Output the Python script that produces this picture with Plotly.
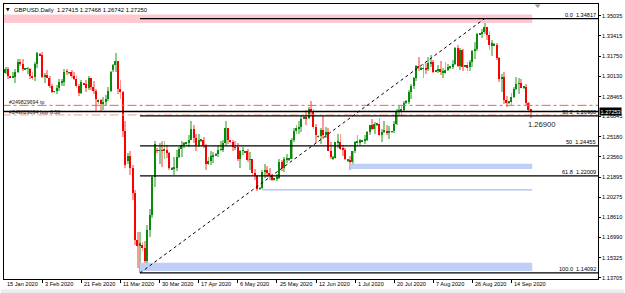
import numpy as np
import pandas as pd
import plotly.graph_objects as go

# ---------------- data (GBPUSD daily, Sunday bars included) ----------------
DATES = [d.strftime("%Y-%m-%d") for d in pd.date_range("2020-01-15", "2020-09-23") if d.weekday() != 5]

OPEN = [
    1.3020, 1.3041, 1.3071,
    1.3008, 1.3005, 1.3008, 1.3045, 1.3125, 1.3113,
    1.3070, 1.3072, 1.3073, 1.3018, 1.3003, 1.3108,
    1.3190, 1.3185, 1.3005, 1.3023, 1.2999, 1.2932,
    1.2887, 1.2890, 1.2917, 1.2963, 1.2969, 1.3048,
    1.3040, 1.3045, 1.3012, 1.2992, 1.2930, 1.2876,
    1.2950, 1.2948, 1.2915, 1.2997, 1.2927, 1.2889,
    1.2810, 1.2815, 1.2789, 1.2805, 1.2828, 1.2895,
    1.3060, 1.3100, 1.3133, 1.2905, 1.2880, 1.2566,
    1.2320, 1.2360, 1.2262, 1.2062, 1.1677, 1.1626,
    1.1640, 1.1610, 1.1507, 1.1763, 1.1878, 1.2192,
    1.2410, 1.2405, 1.2410, 1.2405, 1.2415, 1.2390,
    1.2255, 1.2260, 1.2265, 1.2351, 1.2420, 1.2450,
    1.2465, 1.2470, 1.2495, 1.2580, 1.2508, 1.2452,
    1.2490, 1.2492, 1.2445, 1.2300, 1.2320, 1.2360,
    1.2370, 1.2380, 1.2415, 1.2415, 1.2470, 1.2590,
    1.2485, 1.2480, 1.2433, 1.2432, 1.2340, 1.2405,
    1.2390, 1.2400, 1.2330, 1.2335, 1.2225, 1.2200,
    1.2095, 1.2100, 1.2235, 1.2245, 1.2225, 1.2200,
    1.2170, 1.2180, 1.2185, 1.2315, 1.2265, 1.2335,
    1.2330, 1.2340, 1.2490, 1.2565, 1.2590, 1.2595,
    1.2670, 1.2680, 1.2670, 1.2745, 1.2730, 1.2595,
    1.2520, 1.2525, 1.2575, 1.2530, 1.2555, 1.2405,
    1.2340, 1.2350, 1.2475, 1.2480, 1.2420, 1.2415,
    1.2325, 1.2330, 1.2315, 1.2400, 1.2475, 1.2475,
    1.2480, 1.2490, 1.2495, 1.2555, 1.2615, 1.2580,
    1.2615, 1.2625, 1.2535, 1.2560, 1.2570, 1.2550,
    1.2560, 1.2562, 1.2625, 1.2725, 1.2735, 1.2740,
    1.2795, 1.2805, 1.2880, 1.2935, 1.2995, 1.3095,
    1.3070, 1.3075, 1.3075, 1.3070, 1.3120, 1.3130,
    1.3050, 1.3058, 1.3070, 1.3045, 1.3045, 1.3060,
    1.3080, 1.3090, 1.3115, 1.3240, 1.3095, 1.3225,
    1.3090, 1.3100, 1.3085, 1.3125, 1.3215, 1.3235,
    1.3350, 1.3360, 1.3370, 1.3415, 1.3345, 1.3265,
    1.3265, 1.3270, 1.3160, 1.2990, 1.3010, 1.2820,
    1.2795, 1.2805, 1.2845, 1.2910, 1.2950, 1.2955,
    1.2920, 1.2925, 1.2795, 1.27415,
]
HIGH = [
    1.3069, 1.3085, 1.3090,
    1.3015, 1.3048, 1.3070, 1.3153, 1.3152, 1.3155,
    1.3078, 1.3090, 1.3078, 1.3047, 1.3125, 1.3207,
    1.3198, 1.3212, 1.3040, 1.3063, 1.3013, 1.2948,
    1.2895, 1.2943, 1.2988, 1.2990, 1.3069, 1.3070,
    1.3050, 1.3062, 1.3044, 1.3014, 1.2952, 1.2979,
    1.2958, 1.2982, 1.3012, 1.3000, 1.2975, 1.2906,
    1.2830, 1.2826, 1.2847, 1.2858, 1.2927, 1.3052,
    1.3110, 1.3200, 1.3140, 1.2985, 1.2889, 1.2646,
    1.2390, 1.2405, 1.2293, 1.2087, 1.1745, 1.1745,
    1.1660, 1.1671, 1.1800, 1.1932, 1.2203, 1.2487,
    1.2430, 1.2467, 1.2482, 1.2485, 1.2455, 1.2392,
    1.2270, 1.2354, 1.2410, 1.2434, 1.2488, 1.2480,
    1.2475, 1.2532, 1.2647, 1.2615, 1.2545, 1.2542,
    1.2500, 1.2518, 1.2457, 1.2353, 1.2405, 1.2398,
    1.2385, 1.2445, 1.2485, 1.2493, 1.2644, 1.2594,
    1.2495, 1.2496, 1.2485, 1.2466, 1.2415, 1.2438,
    1.2405, 1.2421, 1.2391, 1.2337, 1.2255, 1.2209,
    1.2110, 1.2250, 1.2296, 1.2278, 1.2262, 1.2215,
    1.2185, 1.2215, 1.2339, 1.2330, 1.2355, 1.2378,
    1.2345, 1.2506, 1.2589, 1.2612, 1.2647, 1.2700,
    1.2685, 1.2734, 1.2763, 1.2813, 1.2749, 1.2621,
    1.2535, 1.2590, 1.2688, 1.2602, 1.2588, 1.2475,
    1.2360, 1.2476, 1.2542, 1.2543, 1.2456, 1.2425,
    1.2340, 1.2360, 1.2406, 1.2482, 1.2531, 1.2500,
    1.2495, 1.2533, 1.2570, 1.2619, 1.2667, 1.2643,
    1.2630, 1.2669, 1.2580, 1.2650, 1.2615, 1.2608,
    1.2570, 1.2648, 1.2744, 1.2769, 1.2766, 1.2809,
    1.2815, 1.2901, 1.2950, 1.3005, 1.3106, 1.3170,
    1.3085, 1.3113, 1.3117, 1.3170, 1.3185, 1.3145,
    1.3065, 1.3100, 1.3134, 1.3080, 1.3130, 1.3116,
    1.3095, 1.3147, 1.3251, 1.3267, 1.3245, 1.3236,
    1.3105, 1.3131, 1.3146, 1.3225, 1.3289, 1.3361,
    1.3365, 1.3398, 1.3482, 1.3416, 1.3379, 1.3307,
    1.3280, 1.3283, 1.3167, 1.3031, 1.3044, 1.2848,
    1.2810, 1.2873, 1.2927, 1.3007, 1.3002, 1.2987,
    1.2930, 1.2949, 1.2805, 1.27468,
]
LOW = [
    1.2995, 1.3030, 1.2990,
    1.2995, 1.2995, 1.2960, 1.3040, 1.3098, 1.3051,
    1.3064, 1.3028, 1.2991, 1.2983, 1.2972, 1.3082,
    1.3175, 1.2994, 1.2961, 1.2994, 1.2918, 1.2874,
    1.2880, 1.2870, 1.2896, 1.2932, 1.2930, 1.3024,
    1.3035, 1.3002, 1.2980, 1.2918, 1.2853, 1.2867,
    1.2940, 1.2885, 1.2902, 1.2902, 1.2867, 1.2726,
    1.2790, 1.2725, 1.2736, 1.2768, 1.2812, 1.2884,
    1.3045, 1.3050, 1.2868, 1.2830, 1.2516, 1.2263,
    1.2300, 1.2207, 1.2004, 1.1636, 1.1451, 1.1409,
    1.1590, 1.1452, 1.1478, 1.1706, 1.1855, 1.2106,
    1.2390, 1.2295, 1.2275, 1.2336, 1.2342, 1.2247,
    1.2245, 1.2206, 1.2240, 1.2345, 1.2355, 1.2430,
    1.2455, 1.2435, 1.2491, 1.2467, 1.2405, 1.2439,
    1.2480, 1.2428, 1.2247, 1.2285, 1.2285, 1.2306,
    1.2365, 1.2355, 1.2400, 1.2392, 1.2450, 1.2457,
    1.2470, 1.2403, 1.2408, 1.2321, 1.2265, 1.2373,
    1.2385, 1.2311, 1.2247, 1.2208, 1.2164, 1.2076,
    1.2088, 1.2091, 1.2181, 1.2190, 1.2163, 1.2160,
    1.2160, 1.2155, 1.2175, 1.2242, 1.2236, 1.2308,
    1.2320, 1.2337, 1.2475, 1.2538, 1.2541, 1.2560,
    1.2660, 1.2618, 1.2667, 1.2695, 1.2585, 1.2471,
    1.2510, 1.2460, 1.2500, 1.2505, 1.2403, 1.2335,
    1.2330, 1.2334, 1.2430, 1.2414, 1.2360, 1.2330,
    1.2310, 1.2252, 1.2260, 1.2386, 1.2441, 1.2456,
    1.2475, 1.2462, 1.2485, 1.2532, 1.2575, 1.2543,
    1.2610, 1.2525, 1.2480, 1.2553, 1.2536, 1.2500,
    1.2550, 1.2547, 1.2617, 1.2691, 1.2687, 1.2718,
    1.2790, 1.2784, 1.2828, 1.2905, 1.2972, 1.3056,
    1.3060, 1.3002, 1.3028, 1.3059, 1.3085, 1.3035,
    1.3045, 1.3040, 1.3024, 1.3000, 1.3030, 1.3055,
    1.3075, 1.3070, 1.3105, 1.3085, 1.3060, 1.3059,
    1.3085, 1.3054, 1.3058, 1.3085, 1.3151, 1.3220,
    1.3345, 1.3323, 1.3360, 1.3307, 1.3224, 1.3181,
    1.3255, 1.3143, 1.2965, 1.2885, 1.2787, 1.2762,
    1.2790, 1.2774, 1.2835, 1.2903, 1.2864, 1.2916,
    1.2910, 1.2778, 1.2719, 1.26742,
]
CLOSE = [
    1.3041, 1.3071, 1.3012,
    1.3005, 1.3008, 1.3045, 1.3125, 1.3113, 1.3075,
    1.3072, 1.3073, 1.3018, 1.3003, 1.3108, 1.3205,
    1.3185, 1.3005, 1.3023, 1.2999, 1.2932, 1.2885,
    1.2890, 1.2917, 1.2963, 1.2969, 1.3048, 1.3047,
    1.3045, 1.3012, 1.2992, 1.2930, 1.2876, 1.2962,
    1.2948, 1.2915, 1.2997, 1.2927, 1.2889, 1.2823,
    1.2815, 1.2789, 1.2805, 1.2828, 1.2895, 1.3045,
    1.3100, 1.3133, 1.2905, 1.2880, 1.2566, 1.2288,
    1.2360, 1.2262, 1.2062, 1.1677, 1.1626, 1.1650,
    1.1610, 1.1507, 1.1763, 1.1878, 1.2192, 1.2457,
    1.2405, 1.2410, 1.2405, 1.2415, 1.2390, 1.2264,
    1.2260, 1.2265, 1.2351, 1.2420, 1.2450, 1.2470,
    1.2470, 1.2495, 1.2580, 1.2508, 1.2452, 1.2495,
    1.2492, 1.2445, 1.2300, 1.2320, 1.2360, 1.2365,
    1.2380, 1.2415, 1.2415, 1.2470, 1.2590, 1.2493,
    1.2480, 1.2433, 1.2432, 1.2340, 1.2405, 1.2405,
    1.2400, 1.2330, 1.2335, 1.2225, 1.2200, 1.2097,
    1.2100, 1.2235, 1.2245, 1.2225, 1.2200, 1.2165,
    1.2180, 1.2185, 1.2315, 1.2265, 1.2335, 1.2345,
    1.2340, 1.2490, 1.2565, 1.2590, 1.2595, 1.2665,
    1.2680, 1.2670, 1.2745, 1.2730, 1.2595, 1.2535,
    1.2525, 1.2575, 1.2530, 1.2555, 1.2405, 1.2355,
    1.2350, 1.2475, 1.2480, 1.2420, 1.2415, 1.2335,
    1.2330, 1.2315, 1.2400, 1.2475, 1.2475, 1.2490,
    1.2490, 1.2495, 1.2555, 1.2615, 1.2580, 1.2620,
    1.2625, 1.2535, 1.2560, 1.2570, 1.2550, 1.2565,
    1.2562, 1.2625, 1.2725, 1.2735, 1.2740, 1.2795,
    1.2805, 1.2880, 1.2935, 1.2995, 1.3095, 1.3085,
    1.3075, 1.3075, 1.3070, 1.3120, 1.3130, 1.3050,
    1.3058, 1.3070, 1.3045, 1.3045, 1.3060, 1.3085,
    1.3090, 1.3115, 1.3240, 1.3095, 1.3225, 1.3085,
    1.3100, 1.3085, 1.3125, 1.3215, 1.3235, 1.3355,
    1.3360, 1.3370, 1.3415, 1.3345, 1.3265, 1.3280,
    1.3270, 1.3160, 1.2990, 1.3010, 1.2820, 1.2795,
    1.2805, 1.2845, 1.2910, 1.2950, 1.2955, 1.2920,
    1.2925, 1.2795, 1.2741, 1.27250,
]

TITLE = "GBPUSD,Daily  1.27415 1.27468 1.26742 1.27250"
XTICK_DATES = ["2020-01-15", "2020-02-03", "2020-02-21", "2020-03-11", "2020-03-30", "2020-04-17",
               "2020-05-06", "2020-05-25", "2020-06-12", "2020-07-01", "2020-07-20", "2020-08-07",
               "2020-08-26", "2020-09-14"]
XTICK_LABELS = ["15 Jan 2020", "3 Feb 2020", "21 Feb 2020", "11 Mar 2020", "30 Mar 2020", "17 Apr 2020",
                "6 May 2020", "25 May 2020", "12 Jun 2020", "1 Jul 2020", "20 Jul 2020", "7 Aug 2020",
                "26 Aug 2020", "14 Sep 2020"]
YTICKS = [1.35035, 1.33415, 1.31750, 1.30130, 1.28465, 1.26845, 1.25180, 1.23560,
          1.21895, 1.20275, 1.18610, 1.16990, 1.15325, 1.13705]
YTICK_LABELS = ["1.35035", "1.33415", "1.31750", "1.30130", "1.28465", "1.26845", "1.25180", "1.23560",
                "1.21895", "1.20275", "1.18610", "1.16990", "1.15325", "1.13705"]

FIB_PRICES = [1.34817, 1.26900, 1.24455, 1.22009, 1.14092]
FIB_TEXT = ["0.0", "38.2", "50", "61.8", "100.0"]
FIB_START = "2020-03-20"
FIB_END = "2020-09-01"

PINK_ZONE = (1.34467, 1.35157)
BLUE_ZONES = [("2020-06-29", 1.22555, 1.22994), ("2020-05-18", 1.20801, 1.20931), ("2020-03-20", 1.14249, 1.14923)]
BID = 1.27250
BID_LABEL = "1.27253"
TP_PRICE = 1.27750
BUY_PRICE = 1.26970
TP_TEXT = "#249829694 tp"
BUY_TEXT = "#249829694 buy 0.50"
MARK_TEXT = "1.26900"
MARK_PRICE = 1.26225

# ---------------- geometry ----------------
W, H = 625, 293
PL, PR, PT, PB = 3, 599, 3, 279
BAR_PX = 2.452
X0_PX = 2.2
Y_LO, Y_HI = 1.13600, 1.36009


def xp(px):
    return (px - PL) / (PR - PL)


def yp(py):
    return (PB - py) / (PB - PT)


FONT = "Liberation Sans, Arial, sans-serif"

o = np.array(OPEN)
h = np.array(HIGH)
l = np.array(LOW)
c = np.array(CLOSE)
idx = np.arange(len(DATES))
pos = {d: i for i, d in enumerate(DATES)}
up = c >= o
dn = ~up
last = len(DATES) - 1
px_range = [(PL - X0_PX) / BAR_PX, (PR - X0_PX) / BAR_PX]
xleft = px_range[0] - 1
xright = px_range[1] + 1
zone_end = last + 0.5

fig = go.Figure()
# zones as filled traces (drawn first, under the candles)
fig.add_trace(go.Scatter(x=[xleft, zone_end, zone_end, xleft, xleft],
                         y=[PINK_ZONE[0], PINK_ZONE[0], PINK_ZONE[1], PINK_ZONE[1], PINK_ZONE[0]],
                         fill="toself", fillcolor="#ffc7cf", mode="none", hoverinfo="skip"))
for d, y0, y1 in BLUE_ZONES:
    x0 = pos[d]
    fig.add_trace(go.Scatter(x=[x0, zone_end, zone_end, x0, x0], y=[y0, y0, y1, y1, y0],
                             fill="toself", fillcolor="#bfcff5", mode="none", hoverinfo="skip"))
# wicks (pale)
fig.add_trace(go.Bar(x=idx[up], base=l[up], y=(h - l)[up], width=0.36,
                     marker=dict(color="#8fc98f", line=dict(width=0)), hoverinfo="skip"))
fig.add_trace(go.Bar(x=idx[dn], base=l[dn], y=(h - l)[dn], width=0.36,
                     marker=dict(color="#ff9a9a", line=dict(width=0)), hoverinfo="skip"))
# bodies (vivid)
bb = np.minimum(o, c)
bh = np.maximum(np.abs(c - o), 0.0003)
fig.add_trace(go.Bar(x=idx[up], base=bb[up], y=bh[up], width=0.55,
                     marker=dict(color="#0a8a0a", line=dict(width=0)), hoverinfo="skip"))
fig.add_trace(go.Bar(x=idx[dn], base=bb[dn], y=bh[dn], width=0.55,
                     marker=dict(color="#ff0000", line=dict(width=0)), hoverinfo="skip"))

shapes = []
# order lines
shapes.append(dict(type="line", xref="x", yref="y", x0=xleft, x1=xright, y0=TP_PRICE, y1=TP_PRICE,
                   line=dict(color="#ee6a3c", width=1, dash="dashdot")))
shapes.append(dict(type="line", xref="x", yref="y", x0=xleft, x1=xright, y0=BUY_PRICE, y1=BUY_PRICE,
                   line=dict(color="#f5a080", width=1, dash="dashdot")))
# bid line
shapes.append(dict(type="line", xref="x", yref="y", x0=xleft, x1=xright, y0=BID, y1=BID,
                   line=dict(color="#000000", width=1.3)))
# fibo lines
for p in FIB_PRICES:
    shapes.append(dict(type="line", xref="x", yref="y", x0=pos[FIB_START], x1=xright, y0=p, y1=p,
                       line=dict(color="#000000", width=1.3)))
# fibo trend line
shapes.append(dict(type="line", xref="x", yref="y", x0=pos[FIB_START], x1=pos[FIB_END],
                   y0=FIB_PRICES[-1], y1=FIB_PRICES[0], line=dict(color="#000000", width=1, dash="dot")))
# chart-shift marker
shapes.append(dict(type="path", xref="paper", yref="paper",
                   path=f"M {xp(535.5)} {yp(3.5)} L {xp(541.5)} {yp(3.5)} L {xp(538.5)} {yp(7)} Z",
                   fillcolor="#9a9a9a", line=dict(width=0)))
# bottom strip
shapes.append(dict(type="rect", xref="paper", yref="paper", x0=xp(0), x1=xp(W), y0=yp(H), y1=yp(289.5),
                   fillcolor="#ececec", line=dict(width=0)))

ann = []
small = dict(family=FONT, size=5.6, color="#000000")
ann.append(dict(text="▼", x=xp(2.5), y=yp(9), xref="paper", yref="paper", xanchor="left", yanchor="middle",
                showarrow=False, font=dict(family="DejaVu Sans", size=4.5, color="#000000")))
ann.append(dict(text=TITLE, x=xp(11), y=yp(9), xref="paper", yref="paper", xanchor="left", yanchor="middle",
                showarrow=False, font=dict(family=FONT, size=5.9, color="#000000")))
for lv, p in zip(FIB_TEXT, FIB_PRICES):
    ann.append(dict(text=f"{lv}\u00a0\u00a0{p:.5f}", x=xp(598.5), y=p, xref="paper", yref="y",
                    xanchor="right", yanchor="middle", yshift=3.6, showarrow=False, font=small))
ann.append(dict(text=MARK_TEXT, x=xp(526.5), y=MARK_PRICE, xref="paper", yref="y", xanchor="left",
                yanchor="middle", showarrow=False, font=dict(family=FONT, size=7.6, color="#1a1a1a")))
ann.append(dict(text=TP_TEXT, x=xp(6.5), y=TP_PRICE, xref="paper", yref="y", xanchor="left",
                yanchor="middle", yshift=3, showarrow=False, font=dict(family=FONT, size=5.3, color="#202020")))
ann.append(dict(text=BUY_TEXT, x=xp(6.5), y=BUY_PRICE, xref="paper", yref="y", xanchor="left",
                yanchor="middle", yshift=3, showarrow=False, font=dict(family=FONT, size=5.3, color="#202020")))
for d, t in zip(XTICK_DATES, XTICK_LABELS):
    tick_px = X0_PX + pos[d] * BAR_PX
    ann.append(dict(text=t, x=xp(max(tick_px, PL)), y=yp(284), xref="paper", yref="paper", xanchor="left",
                    yanchor="middle", xshift=0.6, showarrow=False, font=small))
ann.append(dict(text=BID_LABEL, x=1, y=BID, xref="paper", yref="y", xanchor="left", yanchor="middle",
                xshift=1, showarrow=False, bgcolor="#000000", borderpad=0.5,
                font=dict(family=FONT, size=5.6, color="#ffffff")))

fig.update_layout(
    width=W, height=H,
    margin=dict(l=PL, r=W - PR, t=PT, b=H - PB, pad=0),
    paper_bgcolor="#ffffff", plot_bgcolor="#ffffff",
    barmode="overlay", bargap=0, showlegend=False,
    shapes=shapes, annotations=ann,
    xaxis=dict(range=px_range, showgrid=False, zeroline=False, showline=True, mirror=True,
               linecolor="#000000", linewidth=1,
               tickmode="array", tickvals=[pos[d] for d in XTICK_DATES], ticktext=[""] * len(XTICK_DATES),
               ticks="outside", ticklen=3, tickwidth=1, tickcolor="#000000", showticklabels=False),
    yaxis=dict(range=[Y_LO, Y_HI], side="right", showgrid=False, zeroline=False, showline=True, mirror=True,
               linecolor="#000000", linewidth=1,
               tickmode="array", tickvals=YTICKS, ticktext=YTICK_LABELS,
               ticks="outside", ticklen=2, tickwidth=1, tickcolor="#000000",
               tickfont=dict(family=FONT, size=5.6, color="#000000")),
)

fig.write_html("out.html")
